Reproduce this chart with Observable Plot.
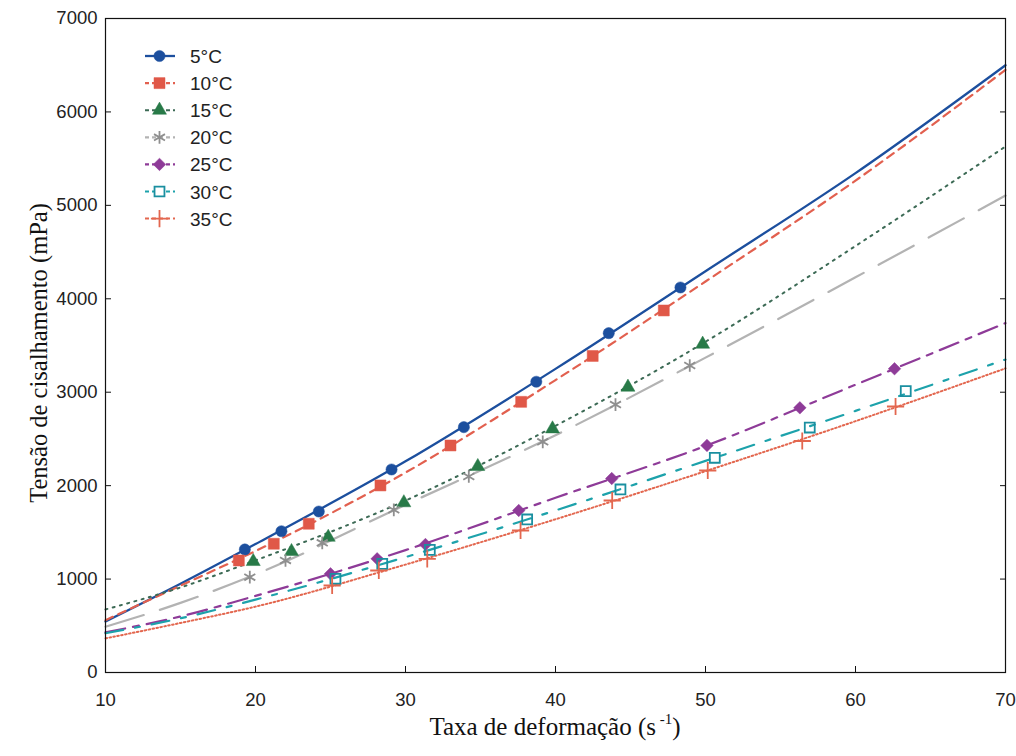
<!DOCTYPE html>
<html><head><meta charset="utf-8">
<script src="https://cdn.jsdelivr.net/npm/d3@7"></script>
<script src="https://cdn.jsdelivr.net/npm/@observablehq/plot@0.6"></script>
<style>
body{margin:0;background:#fff;}
#chart svg{display:block;}
</style></head><body><div id="chart"></div>
<script>
// ---------- data ----------
const temps = ["5°C","10°C","15°C","20°C","25°C","30°C","35°C"];
const xTicks = [10,20,30,40,50,60,70];
const yTicks = [0,1000,2000,3000,4000,5000,6000,7000];

// fitted curves, read at these shear rates
const fitX  = [10, 15, 20, 30, 40, 50, 60, 70];
const fit5  = [546, 950, 1375, 2260, 3250, 4295, 5345, 6500];
const fit10 = [560, 930, 1300, 2140, 3130, 4185, 5265, 6450];
const fit15 = [675, 910, 1200, 1840, 2640, 3540, 4565, 5630];
const fit20 = [490, 745, 1050, 1795, 2540, 3370, 4230, 5105];
const fit25 = [430, 600, 820, 1310, 1870, 2425, 3080, 3740];
const fit30 = [420, 580, 780, 1235, 1735, 2265, 2800, 3350];
const fit35 = [365, 530, 705, 1155, 1640, 2155, 2690, 3255];

// measured points
const obs5x  = [19.29, 21.73, 24.22, 29.07, 33.89, 38.72, 43.55, 48.33];
const obs5y  = [1317, 1512, 1723, 2173, 2626, 3112, 3632, 4121];
const obs10x = [18.89, 21.22, 23.55, 28.33, 33.0, 37.71, 42.48, 47.22];
const obs10y = [1199, 1378, 1592, 2002, 2430, 2897, 3388, 3875];
const obs15x = [19.85, 22.4, 24.85, 29.89, 34.82, 39.8, 44.83, 49.81];
const obs15y = [1188, 1295, 1448, 1817, 2205, 2608, 3054, 3514];
const obs20x = [19.62, 22.0, 24.45, 29.22, 34.22, 39.15, 44.0, 48.95];
const obs20y = [1020, 1199, 1388, 1741, 2098, 2469, 2868, 3286];
const obs25x = [25.0, 28.11, 31.33, 37.55, 43.75, 50.1, 56.29, 62.6];
const obs25y = [1056, 1217, 1370, 1734, 2076, 2430, 2833, 3251];
const obs30x = [25.33, 28.45, 31.62, 38.11, 44.33, 50.62, 56.95, 63.35];
const obs30y = [1003, 1163, 1313, 1638, 1959, 2298, 2622, 3011];
const obs35x = [25.11, 28.22, 31.45, 37.67, 43.78, 50.15, 56.45, 62.67];
const obs35y = [931, 1092, 1217, 1520, 1841, 2162, 2478, 2847];

// ---------- styles ----------
const rhombus = {draw(ctx, size) {
  const h = Math.sqrt(size / 2);
  ctx.moveTo(0, -h); ctx.lineTo(h, 0); ctx.lineTo(0, h); ctx.lineTo(-h, 0); ctx.closePath();
}};
const fits = [fit5, fit10, fit15, fit20, fit25, fit30, fit35];
const obsX = [obs5x, obs10x, obs15x, obs20x, obs25x, obs30x, obs35x];
const obsY = [obs5y, obs10y, obs15y, obs20y, obs25y, obs30y, obs35y];
const styles = [
  {line:"#1c4f9e", dash:null,        lw:2.3, sym:"circle",   d3sym:d3.symbolCircle,   mark:"#1c4f9e", filled:true,  r:5.6},
  {line:"#e2604f", dash:"8,6",       lw:2.2, sym:"square",   d3sym:d3.symbolSquare,   mark:"#e05848", filled:true,  r:6.2},
  {line:"#3c6a55", dash:"2,5.5",     lw:2.0, sym:"triangle", d3sym:d3.symbolTriangle, mark:"#287a48", filled:true,  r:5.2},
  {line:"#b3b3b3", dash:"40,17",     lw:2.2, sym:"asterisk", d3sym:d3.symbolAsterisk, mark:"#8f8f8f", filled:false, r:6.0},
  {line:"#8e3b98", dash:"20,8,6,8",  lw:2.2, sym:rhombus,    d3sym:rhombus,           mark:"#8e3b98", filled:true,  r:5.0},
  {line:"#1da2ab", dash:"18,12,5,12",lw:2.2, sym:"square",   d3sym:d3.symbolSquare,   mark:"#1a8fa0", filled:false, r:5.6},
  {line:"#e3674f", dash:"1.6,2.4",   lw:2.0, sym:"plus",     d3sym:d3.symbolPlus,     mark:"#e3674f", filled:false, r:5.6}
];

const fitRows = temps.flatMap((t,i) => fitX.map((x,j) => ({t, x, y: fits[i][j]})));
const obsRows = temps.flatMap((t,i) => obsX[i].map((x,j) => ({t, x, y: obsY[i][j]})));

const marks = [];
temps.forEach((t,i) => {
  const s = styles[i];
  marks.push(Plot.line(fitRows.filter(d => d.t === t), {
    x:"x", y:"y", stroke:s.line, strokeWidth:s.lw,
    strokeDasharray:s.dash ?? undefined, curve:"monotone-x"
  }));
});
temps.forEach((t,i) => {
  const s = styles[i];
  marks.push(Plot.dot(obsRows.filter(d => d.t === t), {
    x:"x", y:"y", symbol:s.sym, r:s.r,
    fill: s.filled ? s.mark : "none",
    stroke: s.mark, strokeWidth: s.filled ? 0.5 : 1.8
  }));
});

const plot = Plot.plot({
  width:1016, height:756,
  marginLeft:105, marginRight:11, marginTop:18, marginBottom:84,
  style:{fontFamily:"'Liberation Sans', Arial, sans-serif", fontSize:"18.5px", color:"#222", background:"#fff"},
  x:{domain:[10,70], nice:false},
  y:{domain:[0,7000], nice:false},
  marks:[
    ...marks,
    Plot.frame({stroke:"#111", strokeWidth:1.2}),
    Plot.axisX({ticks:xTicks, tickSize:-6, tickPadding:26, fontSize:18.5, label:null, stroke:"#111", tickFormat:d => String(d)}),
    Plot.axisY({ticks:yTicks, tickSize:-6, tickPadding:14, fontSize:18.5, label:null, stroke:"#111", tickFormat:d => String(d)}),
    Plot.axisY({anchor:"right", ticks:yTicks, tickSize:-6, tickFormat:() => "", label:null, stroke:"#111"})
  ]
});
document.getElementById("chart").appendChild(plot);

// ---------- titles & legend ----------
const svg = d3.select(plot);
const xs = plot.scale("x"), ys = plot.scale("y");
const midX = (xs.range[0] + xs.range[1]) / 2;
const midY = (ys.range[0] + ys.range[1]) / 2;

const xt = svg.append("text")
  .attr("x", midX).attr("y", 735)
  .attr("text-anchor","middle")
  .style("font-family","'Liberation Serif', 'Times New Roman', serif")
  .style("font-size","25px").style("fill","#111");
xt.append("tspan").text("Taxa de deformação (s");
xt.append("tspan").text(" -1").style("font-size","15px").attr("dy",-11);
xt.append("tspan").text(")").attr("dy",11);

svg.append("text")
  .attr("transform", `translate(47,${midY+8}) rotate(-90)`)
  .attr("text-anchor","middle")
  .style("font-family","'Liberation Serif', 'Times New Roman', serif")
  .style("font-size","24.5px").style("fill","#111")
  .text("Tensão de cisalhamento (mPa)");

const lg = svg.append("g").attr("transform","translate(145,56)");
temps.forEach((t,i) => {
  const s = styles[i];
  const g = lg.append("g").attr("transform",`translate(0,${i*27.1})`);
  g.append("line").attr("x1",0).attr("x2",30).attr("y1",0).attr("y2",0)
    .attr("stroke",s.line).attr("stroke-width",s.lw)
    .attr("stroke-dasharray", s.dash ? "4,3" : null);
  g.append("path").attr("transform","translate(14.5,0)")
    .attr("d", d3.symbol(s.d3sym, Math.PI*s.r*s.r)())
    .attr("fill", s.filled ? s.mark : "#fff")
    .attr("stroke", s.mark).attr("stroke-width", s.filled ? 0.5 : 1.8);
  g.append("text").attr("x",45).attr("y",7)
    .attr("text-anchor","start")
    .style("font-family","'Liberation Sans', Arial, sans-serif")
    .style("font-size","19px").style("fill","#222").text(t);
});
</script>
</body></html>
